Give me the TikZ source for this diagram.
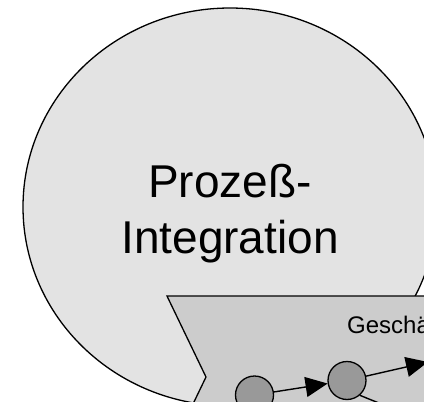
\documentclass[tikz,border=0pt]{standalone}
\usepackage{fontspec}
\setmainfont{Liberation Sans}
\usetikzlibrary{arrows.meta,shapes.geometric}

\begin{document}
\begin{tikzpicture}[
  x=1pt, y=-1pt,
  bubble/.style={draw, ellipse, line width=1.3pt, fill=black!11, minimum width=414pt, minimum height=398pt, inner sep=0pt},
  chevron/.style={draw, line width=1.3pt, fill=black!20},
  task/.style={draw, circle, line width=1.3pt, fill=black!40, minimum size=38pt, inner sep=0pt},
  arrow/.style={-{Triangle[length=22pt,width=20pt]}, line width=1.4pt}
]
\clip (0,0) rectangle (424,402);
\node[bubble] (integ) at (230,207) {};
\node[anchor=base, align=center, font=\fontsize{46}{56}\selectfont] (integlabel) at (230,253) {Prozeß-\\Integration};
\draw[chevron] (167,296) -- (480,296) -- (519,377) -- (480,458) -- (167,458) -- (206,377) -- cycle;
\node[anchor=base west, inner sep=0pt, font=\fontsize{24}{28}\selectfont] (gp) at (347,333) {Geschäftsprozeß};
\node[task] (t1) at (254.5,395) {};
\node[task] (t2) at (347,380.5) {};
\coordinate (t3) at (428,362);
\coordinate (t4) at (421,420);
\draw[arrow] (t1) -- (t2);
\draw[arrow] (t2) -- (t3);
\draw[arrow] (t2.-49) -- (t4);
\end{tikzpicture}
\end{document}
